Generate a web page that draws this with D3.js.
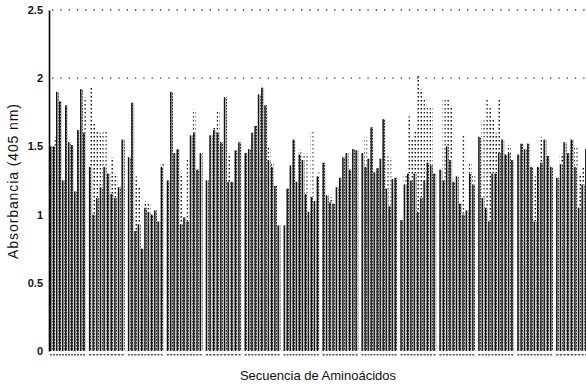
<!DOCTYPE html>
<html>
<head>
<meta charset="utf-8">
<script src="https://cdn.jsdelivr.net/npm/d3@7"></script>
<style>
  body { margin: 0; background: #fff; }
  svg { display: block; font-family: "Liberation Sans", Arial, sans-serif; }
</style>
</head>
<body>
<svg id="chart" width="586" height="385"></svg>
<script>
// bars per group (peptide blocks along the sequence)
const groupSizes = [12, 10, 11, 11, 10, 11, 12, 11, 12, 11, 11, 11, 11, 10];

// solid part of each bar (absorbance)
const solidValues = [
  1.50, 1.50, 1.90, 1.83, 1.25, 1.80, 1.53, 1.51, 1.17, 1.62, 1.92, 1.60,
  1.35, 1.00, 1.12, 1.20, 1.35, 1.30, 1.15, 1.12, 1.20, 1.55,
  1.42, 1.82, 0.88, 0.93, 0.75, 1.05, 1.02, 1.00, 1.03, 0.95, 1.35,
  1.25, 1.90, 1.45, 1.48, 0.93, 0.98, 0.95, 1.58, 1.60, 1.33, 1.45,
  1.25, 1.58, 1.62, 1.60, 1.53, 1.86, 1.24, 1.24, 1.47, 1.53,
  1.45, 1.48, 1.60, 1.65, 1.88, 1.93, 1.80, 1.40, 1.35, 1.21, 0.92,
  0.92, 1.19, 1.36, 1.55, 1.24, 1.44, 1.40, 1.15, 1.02, 1.13, 1.10, 1.28,
  1.38, 1.14, 1.09, 1.08, 1.20, 1.27, 1.42, 1.45, 1.33, 1.48, 1.47,
  1.45, 1.35, 1.41, 1.64, 1.31, 1.34, 1.41, 1.70, 1.19, 1.06, 1.26, 1.27,
  0.96, 1.22, 1.30, 1.25, 1.30, 1.02, 1.12, 1.25, 1.38, 1.36, 1.30,
  1.33, 1.25, 1.50, 1.40, 1.24, 1.28, 1.08, 1.00, 1.03, 1.30, 1.22,
  1.57, 1.12, 1.05, 0.95, 1.30, 1.30, 1.45, 1.55, 1.44, 1.45, 1.40,
  1.44, 1.52, 1.48, 1.52, 1.35, 0.95, 1.35, 1.38, 1.55, 1.43, 1.35,
  1.27, 1.37, 1.53, 1.45, 1.55, 1.35, 1.05, 1.22, 1.48, 1.40
];

// dotted upper part of a bar (0 = none)
const dottedValues = [
  0, 1.57, 0, 0, 0, 0, 0, 0, 0, 0, 0, 1.86,
  1.93, 1.67, 1.62, 1.60, 1.62, 0, 1.42, 1.30, 0, 0,
  0, 0, 1.28, 1.20, 0, 1.10, 1.09, 0, 0, 0, 1.38,
  0, 0, 0, 0, 1.30, 0, 1.40, 0, 1.77, 0, 0,
  0, 0, 1.65, 1.77, 0, 0, 1.45, 0, 0, 0,
  0, 0, 0, 0, 0, 0, 0, 1.50, 1.38, 0, 0,
  0, 0, 0, 0, 0, 1.48, 1.45, 1.45, 0, 1.62, 0, 1.31,
  0, 0, 1.13, 0, 0, 0, 0, 0, 0, 0, 0,
  0, 1.57, 0, 0, 0, 0, 0, 0, 1.45, 1.42, 0, 0,
  0, 1.29, 1.72, 1.55, 1.62, 2.02, 1.92, 1.85, 1.78, 1.78, 0,
  0, 1.85, 1.85, 1.80, 0, 0, 0, 1.58, 0, 1.37, 1.30,
  0, 1.69, 1.85, 1.78, 1.70, 1.60, 1.84, 0, 0, 1.51, 0,
  0, 0, 0, 0, 0, 1.28, 0, 1.57, 0, 0, 0,
  0, 1.45, 0, 0, 0, 1.50, 1.30, 1.35, 0, 0
];

const yTicks = [0, 0.5, 1, 1.5, 2, 2.5];
const gridValues = [2, 2.5];

const svg = d3.select('#chart');

// patterns imitating the scanned fill
const defs = svg.append('defs');
const hatch = defs.append('pattern')
  .attr('id', 'hatch')
  .attr('patternUnits', 'userSpaceOnUse')
  .attr('width', 2).attr('height', 3);
hatch.append('rect').attr('width', 2).attr('height', 3).attr('fill', '#c8c8c8');
hatch.append('rect').attr('width', 1).attr('height', 1.6).attr('fill', '#2a2a2a');

const dots = defs.append('pattern')
  .attr('id', 'dots')
  .attr('patternUnits', 'userSpaceOnUse')
  .attr('width', 3).attr('height', 4);
dots.append('rect').attr('x', 0.5).attr('width', 1.5).attr('height', 1.5).attr('fill', '#1a1a1a');

const y = d3.scaleLinear().domain([0, 2.5]).range([351, 10]);

const xGroup = d3.scaleBand()
  .domain(d3.range(groupSizes.length))
  .range([50, 592])
  .paddingInner(0.08);

// flatten into bar records with their group and slot
let k = 0;
const bars = [];
groupSizes.forEach((n, g) => {
  const inner = d3.scaleBand().domain(d3.range(n)).range([0, xGroup.bandwidth()]).paddingInner(0.1);
  for (let i = 0; i < n; i++, k++) {
    bars.push({
      x: xGroup(g) + inner(i),
      w: inner.bandwidth(),
      solid: solidValues[k],
      dotted: dottedValues[k]
    });
  }
});

// dotted grid lines
svg.append('g')
  .selectAll('line')
  .data(gridValues)
  .join('line')
  .attr('x1', 52).attr('x2', 586)
  .attr('y1', d => y(d)).attr('y2', d => y(d))
  .attr('stroke', '#333')
  .attr('stroke-width', 1.3)
  .attr('stroke-dasharray', '1.3,7');

// dotted (upper) parts
svg.append('g')
  .selectAll('rect')
  .data(bars.filter(d => d.dotted > d.solid))
  .join('rect')
  .attr('x', d => d.x)
  .attr('width', d => d.w)
  .attr('y', d => y(d.dotted))
  .attr('height', d => y(d.solid) - y(d.dotted))
  .attr('fill', 'url(#dots)');

// solid parts: dotted grey fill with a dark edge line
const solid = svg.append('g')
  .selectAll('g')
  .data(bars)
  .join('g');

solid.append('rect')
  .attr('x', d => d.x)
  .attr('width', d => d.w)
  .attr('y', d => y(d.solid))
  .attr('height', d => y(0) - y(d.solid))
  .attr('fill', 'url(#hatch)');

solid.append('rect')
  .attr('x', d => d.x)
  .attr('width', 1.3)
  .attr('y', d => y(d.solid))
  .attr('height', d => y(0) - y(d.solid))
  .attr('fill', '#111');

// tiny sequence labels under each bar (illegible in the original)
svg.append('g')
  .selectAll('rect')
  .data(bars)
  .join('rect')
  .attr('x', d => d.x)
  .attr('width', d => d.w * 0.7)
  .attr('y', 354)
  .attr('height', 1.5)
  .attr('fill', '#555');

// y axis
const yAxis = svg.append('g')
  .attr('transform', 'translate(49,0)')
  .call(d3.axisLeft(y).tickValues(yTicks).tickSize(0).tickPadding(6).tickFormat(d3.format('')));
yAxis.select('.domain').attr('stroke', '#000').attr('stroke-width', 1.6);
yAxis.selectAll('text')
  .attr('font-size', 11)
  .attr('font-weight', 'bold')
  .attr('fill', '#111');

// axis titles
svg.append('text')
  .attr('x', 318).attr('y', 380)
  .attr('text-anchor', 'middle')
  .attr('font-size', 13)
  .attr('fill', '#111')
  .text('Secuencia de Aminoácidos');

svg.append('text')
  .attr('transform', 'translate(18,181) rotate(-90)')
  .attr('text-anchor', 'middle')
  .attr('font-size', 14)
  .attr('letter-spacing', 0.9)
  .attr('fill', '#111')
  .text('Absorbancia (405 nm)');
</script>
</body>
</html>
